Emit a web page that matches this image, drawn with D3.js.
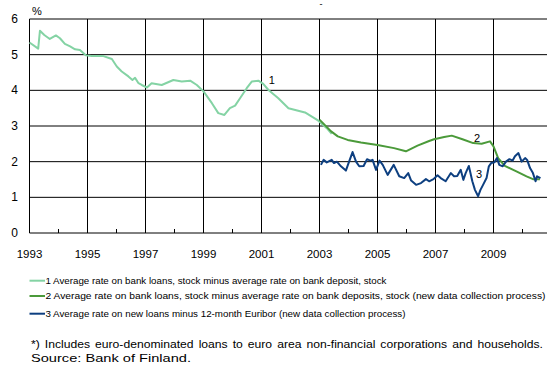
<!DOCTYPE html>
<html>
<head>
<meta charset="utf-8">
<script src="https://cdn.jsdelivr.net/npm/d3@7"></script>
<style>
  body { margin: 0; background: #fff; }
  svg { display: block; font-family: "Liberation Sans", Arial, sans-serif; }
</style>
</head>
<body>
<div id="chart"></div>
<script>
// decimal years and values
var years1 = [1993.0, 1993.3, 1993.36, 1993.51, 1993.7, 1993.91, 1994.05, 1994.22, 1994.4, 1994.57, 1994.74, 1994.95,
  1995.15, 1995.55, 1995.84, 1996.01, 1996.18, 1996.41, 1996.55, 1996.64, 1996.76, 1996.87, 1997.05, 1997.21,
  1997.56, 1997.96, 1998.25, 1998.54, 1998.77, 1999.0, 1999.29, 1999.51, 1999.72, 1999.91, 2000.09, 2000.26,
  2000.49, 2000.67, 2000.89, 2001.06, 2001.24, 2001.58, 2001.93, 2002.5, 2002.96, 2003.25, 2003.42];
var values1 = [5.34, 5.17, 5.67, 5.55, 5.44, 5.54, 5.46, 5.30, 5.23, 5.15, 5.13, 4.98,
  4.96, 4.96, 4.88, 4.67, 4.53, 4.39, 4.29, 4.35, 4.20, 4.15, 4.08, 4.20,
  4.15, 4.29, 4.25, 4.27, 4.15, 3.97, 3.64, 3.36, 3.31, 3.50, 3.57, 3.78,
  4.06, 4.25, 4.27, 4.18, 4.01, 3.78, 3.50, 3.38, 3.15, 2.94, 2.78];

var years2 = [2003.0, 2003.4, 2003.63, 2003.97, 2004.43, 2005.0, 2005.57, 2005.98, 2006.38, 2006.78, 2006.95,
  2007.3, 2007.56, 2007.93, 2008.3, 2008.59, 2008.88, 2009.0, 2009.16, 2009.39, 2009.79, 2010.14, 2010.36, 2010.6];
var values2 = [3.18, 2.85, 2.71, 2.61, 2.54, 2.47, 2.38, 2.29, 2.45, 2.58, 2.63,
  2.69, 2.73, 2.63, 2.52, 2.50, 2.57, 2.43, 2.10, 1.88, 1.73, 1.59, 1.51, 1.51];

var years3 = [2003.05, 2003.14, 2003.25, 2003.42, 2003.5, 2003.6, 2003.74, 2003.91, 2004.02, 2004.14, 2004.26,
  2004.37, 2004.52, 2004.64, 2004.75, 2004.83, 2004.95, 2005.07, 2005.18, 2005.35, 2005.56, 2005.75, 2005.92,
  2006.06, 2006.16, 2006.33, 2006.5, 2006.67, 2006.78, 2006.93, 2007.07, 2007.18, 2007.35, 2007.53, 2007.64,
  2007.75, 2007.87, 2007.96, 2008.04, 2008.15, 2008.27, 2008.36, 2008.47, 2008.55, 2008.64, 2008.76, 2008.84,
  2008.92, 2009.03, 2009.12, 2009.2, 2009.32, 2009.43, 2009.55, 2009.66, 2009.74, 2009.86, 2009.97, 2010.09,
  2010.16, 2010.26, 2010.36, 2010.45, 2010.5, 2010.62];
var values3 = [1.91, 2.05, 1.98, 2.05, 1.96, 2.00, 1.87, 1.75, 2.00, 2.27, 2.00,
  1.87, 1.88, 2.07, 2.03, 2.05, 1.77, 2.03, 1.91, 1.63, 1.91, 1.59, 1.54,
  1.68, 1.47, 1.35, 1.40, 1.51, 1.45, 1.51, 1.62, 1.54, 1.45, 1.68, 1.59,
  1.60, 1.77, 1.49, 1.68, 1.88, 1.45, 1.21, 1.03, 1.21, 1.35, 1.54, 1.87,
  1.96, 1.98, 2.10, 1.91, 1.87, 2.00, 2.07, 2.03, 2.15, 2.24, 2.00, 2.10,
  2.05, 1.82, 1.68, 1.45, 1.59, 1.54];

var yTicks = [0, 1, 2, 3, 4, 5, 6];
var xLabels = [1993, 1995, 1997, 1999, 2001, 2003, 2005, 2007, 2009];
var xMinor = [1994, 1996, 1998, 2000, 2002, 2004, 2006, 2008, 2010];

var seriesNames = [
  "1 Average rate on bank loans, stock minus average rate on bank deposit, stock",
  "2 Average rate on bank loans, stock minus average rate on bank deposits, stock (new data collection process)",
  "3 Average rate on new loans minus 12-month Euribor (new data collection process)"
];
var colors = ["#84d3a4", "#4b9a3a", "#0d3f80"];

var W = 547, H = 369;

var svg = d3.select("#chart").append("svg")
  .attr("width", W).attr("height", H);

var x = d3.scaleLinear().domain([1993, 2011]).range([29.5, 551.5]);
var y = d3.scaleLinear().domain([0, 6]).range([233, 19]);

// grid
svg.append("g").selectAll("line")
  .data(yTicks).enter().append("line")
  .attr("x1", x(1993)).attr("x2", W)
  .attr("y1", function(d) { return y(d); })
  .attr("y2", function(d) { return y(d); })
  .attr("stroke", "#000").attr("stroke-width", 1);

svg.append("g").selectAll("line")
  .data(xLabels).enter().append("line")
  .attr("x1", function(d) { return x(d); })
  .attr("x2", function(d) { return x(d); })
  .attr("y1", y(6)).attr("y2", y(0))
  .attr("stroke", "#000").attr("stroke-width", 1);

// minor ticks on the zero line
svg.append("g").selectAll("line")
  .data(xMinor).enter().append("line")
  .attr("x1", function(d) { return x(d); })
  .attr("x2", function(d) { return x(d); })
  .attr("y1", y(0)).attr("y2", y(0) - 4)
  .attr("stroke", "#000");

// y labels
svg.append("g").selectAll("text")
  .data(yTicks).enter().append("text")
  .attr("x", 18).attr("y", function(d) { return y(d) + 4; })
  .attr("text-anchor", "end")
  .style("font-size", "12px")
  .text(function(d) { return d; });

svg.append("text").attr("x", 32).attr("y", 15)
  .style("font-size", "11px").text("%");

svg.append("text").attr("x", 321).attr("y", 7)
  .attr("text-anchor", "middle")
  .style("font-size", "9px").text("-");

// x labels
svg.append("g").selectAll("text")
  .data(xLabels).enter().append("text")
  .attr("x", function(d) { return x(d); }).attr("y", 257.5)
  .attr("text-anchor", "middle")
  .style("font-size", "11.5px")
  .text(function(d) { return d; });

// lines
var line = d3.line()
  .x(function(d) { return x(d[0]); })
  .y(function(d) { return y(d[1]); });

var series = [
  d3.zip(years1, values1),
  d3.zip(years2, values2),
  d3.zip(years3, values3)
];

svg.append("g").selectAll("path")
  .data(series).enter().append("path")
  .attr("d", line)
  .attr("fill", "none")
  .attr("stroke", function(d, i) { return colors[i]; })
  .attr("stroke-width", 2)
  .attr("stroke-linejoin", "round");

// line numbers
var numLabels = [["1", 2001.25, 4.18], ["2", 2008.33, 2.55], ["3", 2008.4, 1.54]];
svg.append("g").selectAll("text")
  .data(numLabels).enter().append("text")
  .attr("x", function(d) { return x(d[1]); })
  .attr("y", function(d) { return y(d[2]); })
  .style("font-size", "11px")
  .text(function(d) { return d[0]; });

// legend
var legY = [280.7, 296, 313.7];
var legLen = [341, 500, 360];
var leg = svg.append("g").selectAll("g")
  .data(seriesNames).enter().append("g")
  .attr("transform", function(d, i) { return "translate(0," + legY[i] + ")"; });
leg.append("line")
  .attr("x1", 29.5).attr("x2", 45)
  .attr("stroke", function(d, i) { return colors[i]; })
  .attr("stroke-width", 2);
leg.append("text")
  .attr("x", 45.5).attr("y", 3.3)
  .attr("textLength", function(d, i) { return legLen[i]; })
  .attr("lengthAdjust", "spacingAndGlyphs")
  .style("font-size", "9.3px")
  .text(function(d) { return d; });

// footnote: first line justified word by word
var left = 31, right = 543, wordGap = 5;
var words = "*) Includes euro-denominated loans to euro area non-financial corporations and households.".split(" ");
var fg = svg.append("g");
var wEls = words.map(function(w) {
  return fg.append("text").attr("y", 347.7).style("font-size", "11px").text(w);
});
var natural = wEls.map(function(t) { return t.node().getComputedTextLength(); });
var sx = (right - left - wordGap * (words.length - 1)) / d3.sum(natural);
var cx = left;
wEls.forEach(function(t, i) {
  var w = natural[i] * sx;
  t.attr("x", cx).attr("textLength", w).attr("lengthAdjust", "spacingAndGlyphs");
  cx += w + wordGap;
});

svg.append("text").attr("x", left).attr("y", 361.5)
  .style("font-size", "11px")
  .attr("textLength", 160)
  .attr("lengthAdjust", "spacingAndGlyphs")
  .text("Source: Bank of Finland.");
</script>
</body>
</html>
